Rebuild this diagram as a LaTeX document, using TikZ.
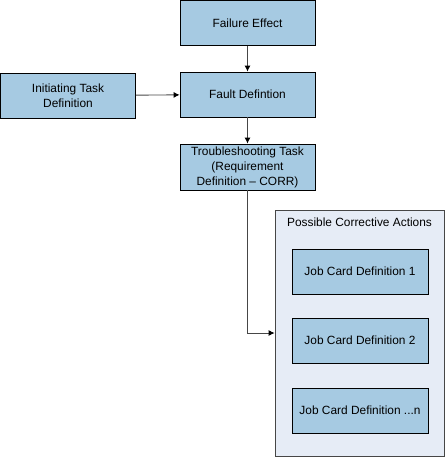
\documentclass[tikz,border=0pt]{standalone}
\usepackage{fontspec}
\setmainfont{Liberation Sans}
\usepackage{xcolor}
\usetikzlibrary{arrows.meta}

\definecolor{boxblue}{RGB}{166,202,226}
\definecolor{groupblue}{RGB}{230,236,246}
\definecolor{linegray}{RGB}{70,70,70}

\begin{document}
\begin{tikzpicture}[x=1pt, y=-1pt,
  box/.style={draw=black, fill=boxblue, line width=0.8pt, minimum width=135pt,
    minimum height=45pt, align=center, inner sep=1pt,
    font=\fontsize{11.9}{15}\selectfont},
  group/.style={draw=linegray, fill=groupblue, line width=0.8pt,
    minimum width=169pt, minimum height=246pt},
  link/.style={-{Latex[length=6pt,width=6pt,black]}, draw=linegray, line width=0.9pt}]

\useasboundingbox (0,0) rectangle (445,457);

% Hauptkette
\node[box] (effect) at (247.5,23) {Failure Effect};
\node[box] (fault) at (247.5,94.5) {Fault Defintion};
\node[box, minimum height=46pt] (trouble) at (247.5,167)
  {Troubleshooting Task\\(Requirement\\Definition -- CORR)};
\node[box] (initiating) at (68,95.5) {Initiating Task\\Definition};

% Gruppe
\node[group] (actions) at (359.5,333) {};
\node[font=\fontsize{11.9}{15}\selectfont] (actionstitle) at (359.5,222)
  {Possible Corrective Actions};
\node[box, minimum width=136pt] (job1) at (360,271.5) {Job Card Definition 1};
\node[box, minimum width=136pt] (job2) at (360,340.5) {Job Card Definition 2};
\node[box, minimum width=136pt] (jobn) at (360,410.5) {Job Card Definition ...n};

% Pfeile
\draw[link] (effect) -- (fault);
\draw[link] (initiating) -- (fault);
\draw[link] (fault) -- (trouble);
\draw[link] (trouble.south) |- (actions.west);

\end{tikzpicture}
\end{document}
